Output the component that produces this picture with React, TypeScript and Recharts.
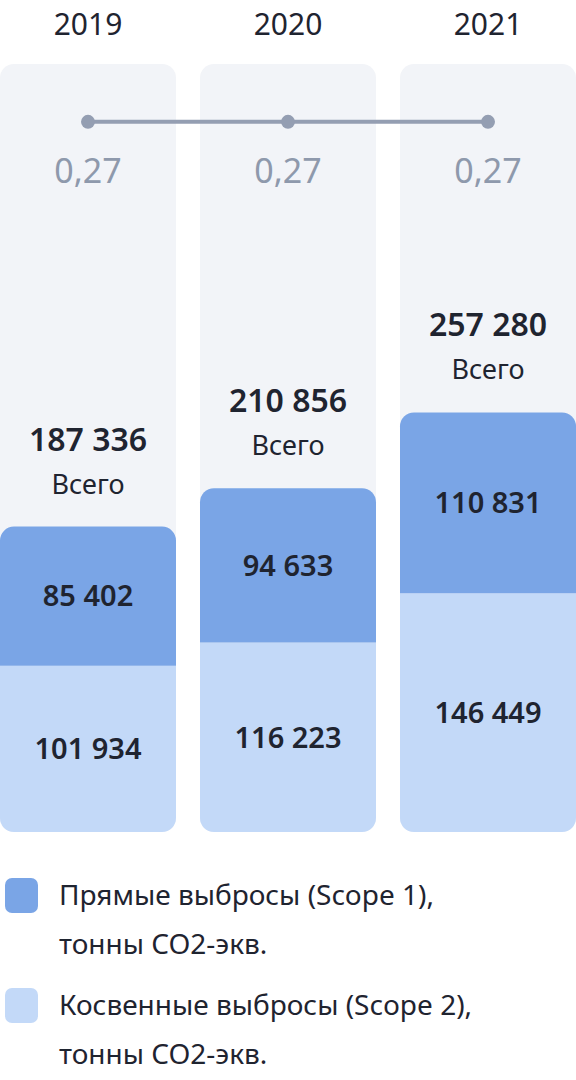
import { Bar, ComposedChart, LabelList, Line, XAxis, YAxis } from "recharts";

const YEARS = ["2019", "2020", "2021"];
const SCOPE1 = [85402, 94633, 110831];
const SCOPE2 = [101934, 116223, 146449];
const TOTALS = [187336, 210856, 257280];
const INTENSITY = [0.27, 0.27, 0.27];

const data = YEARS.map((year, i) => ({
  year,
  scope1: SCOPE1[i],
  scope2: SCOPE2[i],
  total: TOTALS[i],
  intensity: INTENSITY[i],
}));

const FONT = "'Noto Sans', sans-serif";
const DARK = "#1f2430";
const PANEL = "#f2f4f8";
const BLUE = "#7aa5e6";
const LIGHT = "#c3d9f8";
const GREY = "#949eb2";

const fmt = (v: number) => String(v).replace(/\B(?=(\d{3})+(?!\d))/g, "\u00a0");
const fmtDec = (v: number) => v.toFixed(2).replace(".", ",");

function YearTick({ x, y, payload }: any) {
  return (
    <text x={x} y={y} dy={-21} textAnchor="middle" fontSize={30} fill={DARK} fontFamily={FONT}>
      {payload.value}
    </text>
  );
}

function TotalLabel({ x, y, width, value }: any) {
  const cx = x + width / 2;
  return (
    <g fontFamily={FONT} textAnchor="middle" fill={DARK}>
      <text x={cx} y={y - 76} fontSize={32} fontWeight={600}>
        {fmt(value)}
      </text>
      <text x={cx} y={y - 33} fontSize={27}>
        Всего
      </text>
    </g>
  );
}

function RatioLabel({ x, y, value }: any) {
  return (
    <text x={x} y={y + 61} textAnchor="middle" fontSize={34} fill="#8e99ac" fontFamily={FONT}>
      {fmtDec(value)}
    </text>
  );
}

const legend = [
  { color: BLUE, lines: ["Прямые выбросы (Scope 1),", "тонны CO2-экв."] },
  { color: LIGHT, lines: ["Косвенные выбросы (Scope 2),", "тонны CO2-экв."] },
];

export default function App() {
  return (
    <div style={{ position: "absolute", left: 0, top: 0, width: 576, height: 1080, background: "#fff", fontFamily: FONT }}>
      <div style={{ width: 576, height: 840, overflow: "hidden" }}>
        <ComposedChart
          width={600}
          height={840}
          data={data}
          margin={{ top: 0, right: 0, bottom: 8, left: 0 }}
          barCategoryGap={12}
          style={{ marginLeft: -12 }}
        >
          <XAxis dataKey="year" orientation="top" height={64} axisLine={false} tickLine={false} tick={<YearTick />} />
          <YAxis yAxisId="v" hide domain={[0, 471000]} />
          <YAxis yAxisId="r" hide domain={[0, 0.292]} />
          <Bar
            yAxisId="v"
            dataKey="scope2"
            stackId="s"
            fill={LIGHT}
            radius={[0, 0, 14, 14]}
            background={{ fill: PANEL, radius: 14 } as any}
            isAnimationActive={false}
          >
            <LabelList dataKey="scope2" position="center" formatter={(v: any) => fmt(v)} fontSize={29} fontWeight={600} fill={DARK} fontFamily={FONT} />
          </Bar>
          <Bar yAxisId="v" dataKey="scope1" stackId="s" fill={BLUE} radius={[14, 14, 0, 0]} isAnimationActive={false}>
            <LabelList dataKey="scope1" position="center" formatter={(v: any) => fmt(v)} fontSize={29} fontWeight={600} fill={DARK} fontFamily={FONT} />
            <LabelList dataKey="total" content={<TotalLabel />} />
          </Bar>
          <Line
            yAxisId="r"
            dataKey="intensity"
            stroke={GREY}
            strokeWidth={4}
            dot={{ r: 7, fill: GREY, stroke: "none" }}
            isAnimationActive={false}
          >
            <LabelList dataKey="intensity" content={<RatioLabel />} />
          </Line>
        </ComposedChart>
      </div>
      <div style={{ position: "absolute", left: 5, top: 872 }}>
        {legend.map((item, i) => (
          <div key={i} style={{ display: "flex", alignItems: "flex-start", marginBottom: 14 }}>
            <div style={{ width: 33, height: 35, borderRadius: 7, background: item.color, marginTop: 6, flexShrink: 0 }} />
            <div style={{ marginLeft: 21, fontSize: 28, lineHeight: "49px", color: DARK, marginTop: -2 }}>
              {item.lines.map((l, j) => (
                <div key={j}>{l}</div>
              ))}
            </div>
          </div>
        ))}
      </div>
    </div>
  );
}
